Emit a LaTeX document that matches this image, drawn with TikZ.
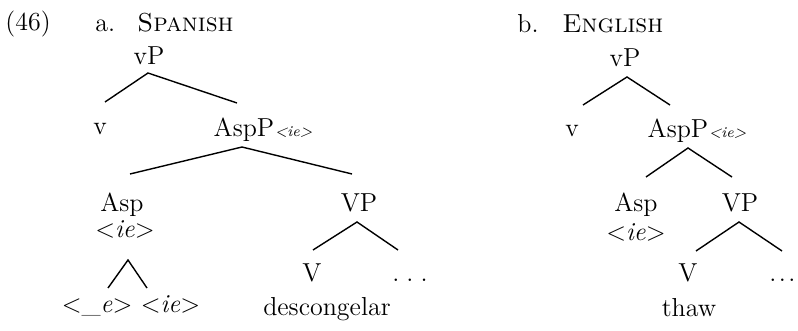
\documentclass[tikz,border=0pt]{standalone}
\usepackage{tikz}
\usetikzlibrary{positioning}

\newcommand{\trdots}{.\kern3.5pt.\kern3.5pt.}

\begin{document}
\begin{tikzpicture}[
    x=0.5pt, y=-0.5pt,
    every node/.style={font=\fontsize{13}{15}\selectfont, inner sep=0pt},
    lbl/.style={anchor=base},
    tag/.style={anchor=base west, font=\fontsize{7.5}{9}\selectfont\itshape},
    branch/.style={line width=0.7pt}
]
\useasboundingbox (0,0) rectangle (798,331);

% example number and headings
\node[anchor=base west] (num) at (5,31) {(46)};
\node[anchor=base west] (laba) at (95,32) {a.};
\node[anchor=base west] (heada) at (137,32) {\textsc{Spanish}};
\node[anchor=base west] (labb) at (517,33) {b.};
\node[anchor=base west] (headb) at (562,33) {\textsc{English}};

% a. Spanish
\node[lbl] (vPa) at (149,65) {vP};
\node[lbl] (va) at (100,135) {v};
\node[lbl] (AspPa) at (244,137) {AspP};
\node[tag] (AspPaI) at (AspPa.base east) {\textless ie\textgreater};
\node[lbl] (Aspa) at (122,212) {Asp};
\node[lbl] (iea) at (125,238) {\textless\textit{ie}\textgreater};
\node[lbl] (affixa) at (131,313) {\textless\_\textit{e}\textgreater{} \textless\textit{ie}\textgreater};
\node[lbl] (VPa) at (359,212) {VP};
\node[lbl] (Va) at (312,282) {V};
\node[lbl] (dotsa) at (410,282) {\trdots};
\node[lbl] (verba) at (327,315) {descongelar};

\draw[branch] ([shift={(5,-33)}]va.base) -- ([shift={(-1,8)}]vPa.base) -- ([shift={(-7,-34)}]AspPa.base);
\draw[branch] ([shift={(8,-38)}]Aspa.base) -- ([shift={(-2,10)}]AspPa.base) -- ([shift={(-7,-38)}]VPa.base);
\draw[branch] ([shift={(-23,-25)}]affixa.base) -- ([shift={(3,22)}]iea.base) -- ([shift={(16,-25)}]affixa.base);
\draw[branch] ([shift={(1,-32)}]Va.base) -- ([shift={(-2,10)}]VPa.base) -- ([shift={(-12,-32)}]dotsa.base);

% b. English
\node[lbl] (vPb) at (625,67) {vP};
\node[lbl] (vb) at (572,137) {v};
\node[lbl] (AspPb) at (678,138) {AspP};
\node[tag] (AspPbI) at (AspPb.base east) {\textless ie\textgreater};
\node[lbl] (Aspb) at (636,212) {Asp};
\node[lbl] (ieb) at (636,241) {\textless\textit{ie}\textgreater};
\node[lbl] (VPb) at (740,212) {VP};
\node[lbl] (Vb) at (688,282) {V};
\node[anchor=base west] (dotsb) at (769,282) {.\kern1.2pt.\kern1.2pt.};
\node[lbl] (verbb) at (689,317) {thaw};

\draw[branch] ([shift={(11,-32)}]vb.base) -- ([shift={(2,10)}]vPb.base) -- ([shift={(-8,-33)}]AspPb.base);
\draw[branch] ([shift={(10,-35)}]Aspb.base) -- ([shift={(10,10)}]AspPb.base) -- ([shift={(-8,-35)}]VPb.base);
\draw[branch] ([shift={(8,-31)}]Vb.base) -- ([shift={(-1,10)}]VPb.base) -- ([shift={(13,-31)}]dotsb.base west);

\end{tikzpicture}
\end{document}
